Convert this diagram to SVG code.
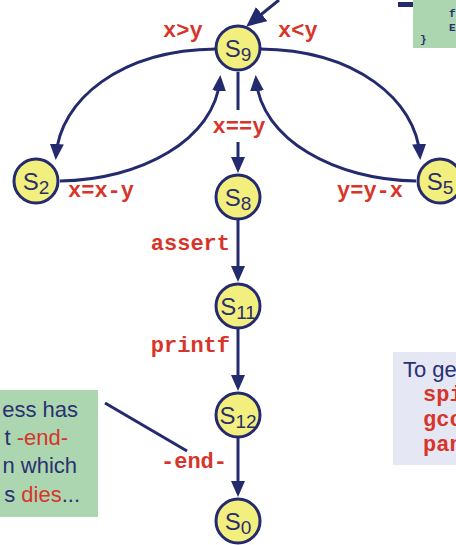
<svg xmlns="http://www.w3.org/2000/svg" width="456" height="545" viewBox="0 0 456 545">
<style>
.node circle{fill:#f3ef7e;stroke:#232a6e;stroke-width:3}
.node text{font-family:"Liberation Sans",Arial,sans-serif;font-size:24px;fill:#2a2f6a;text-anchor:middle}
.node tspan{font-size:19px}
.edge{fill:none;stroke:#232a6e;stroke-width:3}
.lbl{font-family:"Liberation Mono","Courier New",monospace;font-weight:bold;font-size:22px;fill:#d8352a}
.note{font-family:"Liberation Sans",Arial,sans-serif;font-size:22px;fill:#2a3070}
.red{fill:#d8352a}
.code{font-family:"Liberation Mono","Courier New",monospace;font-weight:bold;font-size:11px;fill:#2a3070}
</style>
<defs>
<marker id="ah" viewBox="0 0 16 14" refX="12" refY="7" markerWidth="16" markerHeight="14" markerUnits="userSpaceOnUse" orient="auto">
<path d="M0,0 L16,7 L0,14 z" fill="#232a6e"/>
</marker>
<marker id="ahb" viewBox="0 0 20 18" refX="15" refY="9" markerWidth="20" markerHeight="18" markerUnits="userSpaceOnUse" orient="auto">
<path d="M0,0 L20,9 L0,18 z" fill="#232a6e"/>
</marker>
</defs>

<g id="note-topright">
<rect x="413" y="0" width="43" height="48" fill="#acd6b0"/>
<rect x="398" y="2" width="15" height="5" fill="#232a6e"/>
<text class="code" x="449" y="17">f</text>
<text class="code" x="449" y="31">E</text>
<text class="code" x="420" y="43">}</text>
</g>

<g id="note-left">
<rect x="0" y="390" width="98" height="127" fill="#acd6b0"/>
<text class="note" x="78" y="417" text-anchor="end">ess has</text>
<text class="note" x="68" y="445" text-anchor="end">t <tspan class="red">-end-</tspan></text>
<text class="note" x="77" y="473" text-anchor="end">n which</text>
<text class="note" x="80" y="502" text-anchor="end">s <tspan class="red">dies</tspan>...</text>
</g>

<g id="note-right">
<rect x="393" y="352" width="63" height="113" fill="#e5e7f4"/>
<text class="note" x="403" y="377">To get</text>
<text class="lbl" x="423" y="401">spin</text>
<text class="lbl" x="423" y="426">gcc</text>
<text class="lbl" x="423" y="451">pan</text>
</g>

<g id="connectors">
<line class="edge" x1="279" y1="0" x2="250" y2="23.5" stroke-width="4" marker-end="url(#ahb)"/>
<path class="edge" d="M216,49 C120,50 60,100 56,156" marker-end="url(#ah)"/>
<path class="edge" d="M60,181 C140,180 215,140 220,79" marker-end="url(#ah)"/>
<path class="edge" d="M260,49 C356,50 416,100 420,156" marker-end="url(#ah)"/>
<path class="edge" d="M416,181 C336,180 261,140 256,79" marker-end="url(#ah)"/>
<line class="edge" x1="238" y1="72" x2="238" y2="110"/>
<line class="edge" x1="238" y1="142" x2="238" y2="169" marker-end="url(#ah)"/>
<line class="edge" x1="238" y1="220" x2="238" y2="278" marker-end="url(#ah)"/>
<line class="edge" x1="238" y1="329" x2="238" y2="387" marker-end="url(#ah)"/>
<line class="edge" x1="238" y1="438" x2="238" y2="493" marker-end="url(#ah)"/>
<line class="edge" x1="105" y1="403" x2="187" y2="451" stroke-width="2.5"/>
<text class="lbl" x="163" y="37">x&gt;y</text>
<text class="lbl" x="278" y="37">x&lt;y</text>
<text class="lbl" x="239" y="133" text-anchor="middle">x==y</text>
<text class="lbl" x="68" y="197">x=x-y</text>
<text class="lbl" x="337" y="197">y=y-x</text>
<text class="lbl" x="230" y="250" text-anchor="end">assert</text>
<text class="lbl" x="230" y="352" text-anchor="end">printf</text>
<text class="lbl" x="227" y="468" text-anchor="end">-end-</text>
</g>

<g id="S9" class="node"><circle cx="238" cy="48" r="22"/><text x="238" y="57">S<tspan dy="4">9</tspan></text></g>
<g id="S2" class="node"><circle cx="36" cy="181" r="22"/><text x="36" y="190">S<tspan dy="4">2</tspan></text></g>
<g id="S5" class="node"><circle cx="440" cy="181" r="22"/><text x="440" y="190">S<tspan dy="4">5</tspan></text></g>
<g id="S8" class="node"><circle cx="238" cy="197" r="22"/><text x="238" y="206">S<tspan dy="4">8</tspan></text></g>
<g id="S11" class="node"><circle cx="238" cy="306" r="22"/><text x="238" y="315">S<tspan dy="4">11</tspan></text></g>
<g id="S12" class="node"><circle cx="238" cy="415" r="22"/><text x="238" y="424">S<tspan dy="4">12</tspan></text></g>
<g id="S0" class="node"><circle cx="238" cy="521" r="22"/><text x="238" y="530">S<tspan dy="4">0</tspan></text></g>
</svg>
